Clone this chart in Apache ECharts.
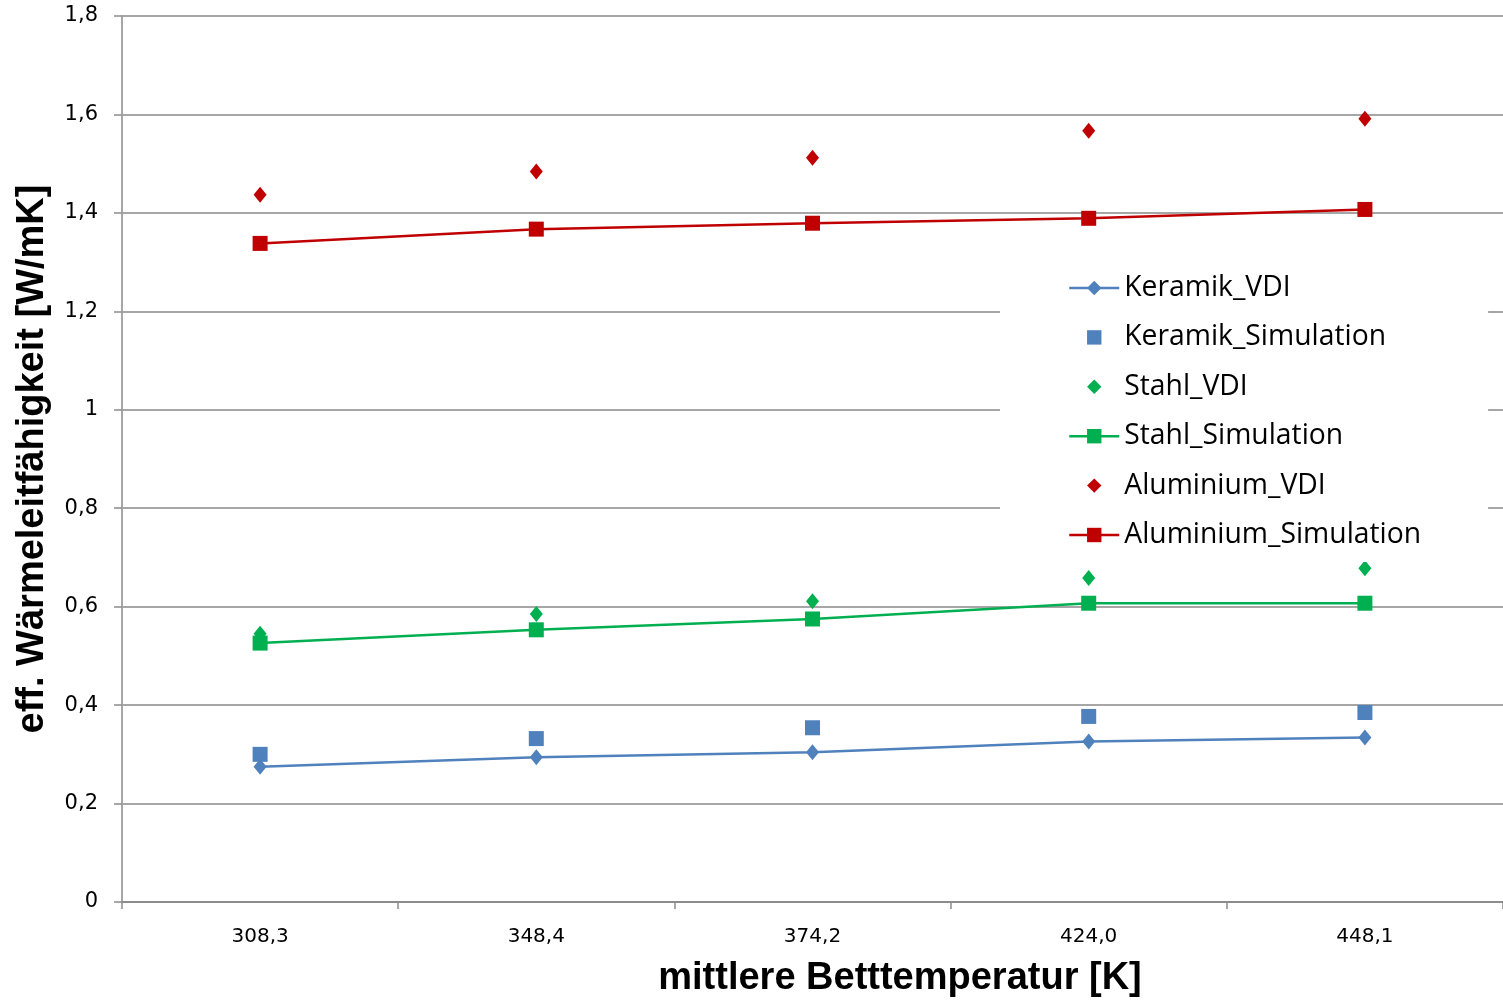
<!DOCTYPE html>
<html>
<head>
<meta charset="utf-8">
<script src="https://cdn.jsdelivr.net/npm/echarts@6/dist/echarts.min.js"></script>
<style>
  html, body { margin: 0; padding: 0; background: #fff; overflow: hidden; }
  #chart { width: 100vw; height: 100vh; }
</style>
</head>
<body>
<div id="chart"></div>
<script>
// mean bed temperature [K]
const temperatures = ['308,3', '348,4', '374,2', '424,0', '448,1'];

// effective thermal conductivity [W/mK]
const keramikVDI = [0.275, 0.294, 0.304, 0.326, 0.334];
const keramikSim = [0.300, 0.332, 0.354, 0.377, 0.385];
const stahlVDI = [0.545, 0.585, 0.611, 0.658, 0.678];
const stahlSim = [0.526, 0.553, 0.575, 0.607, 0.607];
const aluVDI = [1.437, 1.484, 1.512, 1.567, 1.591];
const aluSim = [1.338, 1.367, 1.379, 1.389, 1.407];

const BLUE = '#4F81BD', GREEN = '#00B050', RED = '#C00000';
const LBL = 'DejaVu Sans';
const TITLE = '"Liberation Sans", sans-serif';

const diamond = [13, 16];
const square = 15;

function lineSeries(name, data, color, symbol, size) {
  return {
    name, type: 'line', data, symbol, symbolSize: size,
    lineStyle: { color, width: 2.5 }, itemStyle: { color },
    animation: false
  };
}
function pointSeries(name, data, color, symbol, size) {
  return {
    name, type: 'line', data, symbol, symbolSize: size,
    lineStyle: { width: 0, opacity: 0 }, itemStyle: { color },
    animation: false
  };
}

const chart = echarts.init(document.getElementById('chart'));
chart.setOption({
  animation: false,
  // the plot runs a few pixels past the right edge of the canvas
  grid: { left: 122, right: -6, top: 16, bottom: 96 },
  legend: {
    left: 1000, top: 261,
    orient: 'vertical',
    backgroundColor: '#fff',
    padding: [12, 67, 12, 68],
    itemWidth: 50, itemHeight: 18,
    itemGap: 19.4,
    lineStyle: { width: 2.5 },
    textStyle: { fontFamily: 'Open Sans', fontSize: 28.3, color: '#000', lineHeight: 30 },
    data: [
      { name: 'Keramik_VDI' },
      { name: 'Keramik_Simulation' },
      { name: 'Stahl_VDI' },
      { name: 'Stahl_Simulation' },
      { name: 'Aluminium_VDI' },
      { name: 'Aluminium_Simulation' }
    ]
  },
  xAxis: {
    type: 'category',
    data: temperatures,
    boundaryGap: true,
    axisLine: { lineStyle: { color: '#8c8c8c', width: 2 } },
    axisTick: { show: true, length: 7, lineStyle: { color: '#8c8c8c', width: 1.5 } },
    axisLabel: { fontFamily: LBL, fontSize: 20, color: '#000', margin: 25 },
    name: 'mittlere Betttemperatur [K]',
    nameLocation: 'middle',
    nameGap: 58,
    nameTextStyle: { fontFamily: TITLE, fontWeight: 'bold', fontSize: 38, color: '#000', padding: [0, 0, 0, 175] }
  },
  yAxis: {
    type: 'value',
    min: 0, max: 1.8, interval: 0.2,
    axisLine: { show: true, lineStyle: { color: '#a6a6a6', width: 2 } },
    axisTick: { show: true, length: 8, lineStyle: { color: '#8c8c8c', width: 1.5 } },
    splitLine: { lineStyle: { color: '#888888', width: 1.5 } },
    axisLabel: {
      fontFamily: LBL, fontSize: 21, color: '#000', margin: 24,
      formatter: v => String(+v.toFixed(1)).replace('.', ',')
    },
    name: 'eff. Wärmeleitfähigkeit [W/mK]',
    nameLocation: 'middle',
    nameGap: 70,
    nameTextStyle: { fontFamily: TITLE, fontWeight: 'bold', fontSize: 38, color: '#000' }
  },
  series: [
    lineSeries('Keramik_VDI', keramikVDI, BLUE, 'diamond', diamond),
    pointSeries('Keramik_Simulation', keramikSim, BLUE, 'rect', square),
    pointSeries('Stahl_VDI', stahlVDI, GREEN, 'diamond', diamond),
    lineSeries('Stahl_Simulation', stahlSim, GREEN, 'rect', square),
    pointSeries('Aluminium_VDI', aluVDI, RED, 'diamond', diamond),
    lineSeries('Aluminium_Simulation', aluSim, RED, 'rect', square)
  ]
});
</script>
</body>
</html>
